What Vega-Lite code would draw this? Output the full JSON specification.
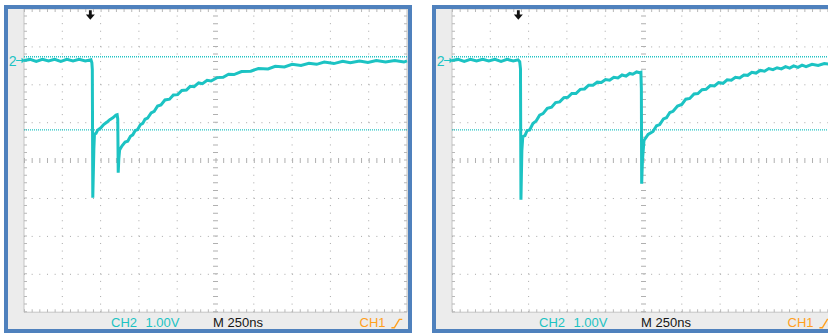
{
  "$schema": "https://vega.github.io/schema/vega-lite/v6.json",
  "background": "white",
  "padding": {"left": 3, "top": 4, "right": 0, "bottom": 0},
  "spacing": 18,
  "config": {
    "view": {"stroke": null, "fill": "#ececec"},
    "axis": {"disable": true},
    "legend": {"disable": true}
  },
  "datasets": {
    "left": [
      {"t": 0, "v": 2.64}, {"t": 40, "v": 2.67}, {"t": 80, "v": 2.62}, {"t": 120, "v": 2.67}, {"t": 160, "v": 2.63},
      {"t": 200, "v": 2.67}, {"t": 240, "v": 2.62}, {"t": 280, "v": 2.67}, {"t": 320, "v": 2.63}, {"t": 360, "v": 2.67},
      {"t": 400, "v": 2.63}, {"t": 437, "v": 2.66}, {"t": 443, "v": 2.58}, {"t": 446, "v": 2.4}, {"t": 449, "v": -0.98},
      {"t": 456, "v": 0.3}, {"t": 460, "v": 0.7}, {"t": 470, "v": 0.72}, {"t": 480, "v": 0.8}, {"t": 500, "v": 0.86},
      {"t": 520, "v": 0.95}, {"t": 540, "v": 1.01}, {"t": 560, "v": 1.08}, {"t": 580, "v": 1.13}, {"t": 600, "v": 1.2},
      {"t": 608, "v": 1.21}, {"t": 612, "v": 1.1}, {"t": 615, "v": -0.32}, {"t": 619, "v": 0.05}, {"t": 624, "v": 0.28},
      {"t": 640, "v": 0.39}, {"t": 660, "v": 0.49}, {"t": 677, "v": 0.51}, {"t": 695, "v": 0.64}, {"t": 710, "v": 0.68},
      {"t": 725, "v": 0.79}, {"t": 742, "v": 0.82}, {"t": 760, "v": 0.95}, {"t": 775, "v": 0.98}, {"t": 790, "v": 1.09},
      {"t": 807, "v": 1.12}, {"t": 830, "v": 1.26}, {"t": 850, "v": 1.3}, {"t": 872, "v": 1.44}, {"t": 894, "v": 1.47},
      {"t": 920, "v": 1.6}, {"t": 950, "v": 1.62}, {"t": 975, "v": 1.73}, {"t": 1003, "v": 1.74}, {"t": 1030, "v": 1.85},
      {"t": 1060, "v": 1.86}, {"t": 1085, "v": 1.96}, {"t": 1110, "v": 1.95}, {"t": 1140, "v": 2.05}, {"t": 1165, "v": 2.03},
      {"t": 1195, "v": 2.12}, {"t": 1221, "v": 2.1}, {"t": 1260, "v": 2.19}, {"t": 1300, "v": 2.2}, {"t": 1335, "v": 2.28},
      {"t": 1371, "v": 2.27}, {"t": 1420, "v": 2.35}, {"t": 1480, "v": 2.36}, {"t": 1530, "v": 2.43}, {"t": 1593, "v": 2.42},
      {"t": 1640, "v": 2.49}, {"t": 1700, "v": 2.47}, {"t": 1750, "v": 2.54}, {"t": 1808, "v": 2.51}, {"t": 1860, "v": 2.57},
      {"t": 1910, "v": 2.54}, {"t": 1960, "v": 2.6}, {"t": 2023, "v": 2.56}, {"t": 2080, "v": 2.62}, {"t": 2130, "v": 2.58},
      {"t": 2190, "v": 2.63}, {"t": 2245, "v": 2.59}, {"t": 2300, "v": 2.64}, {"t": 2360, "v": 2.6}, {"t": 2420, "v": 2.64},
      {"t": 2480, "v": 2.6}, {"t": 2500, "v": 2.63}
    ],
    "right": [
      {"t": 0, "v": 2.64}, {"t": 40, "v": 2.67}, {"t": 80, "v": 2.62}, {"t": 120, "v": 2.67}, {"t": 160, "v": 2.63},
      {"t": 200, "v": 2.67}, {"t": 240, "v": 2.63}, {"t": 280, "v": 2.67}, {"t": 320, "v": 2.62}, {"t": 360, "v": 2.67},
      {"t": 400, "v": 2.63}, {"t": 431, "v": 2.66}, {"t": 442, "v": 2.61}, {"t": 447, "v": 2.42}, {"t": 450, "v": -1.03},
      {"t": 456, "v": 0.26}, {"t": 462, "v": 0.63}, {"t": 476, "v": 0.66}, {"t": 490, "v": 0.79}, {"t": 507, "v": 0.81},
      {"t": 528, "v": 0.98}, {"t": 550, "v": 1.05}, {"t": 572, "v": 1.2}, {"t": 594, "v": 1.24}, {"t": 622, "v": 1.38},
      {"t": 650, "v": 1.41}, {"t": 676, "v": 1.53}, {"t": 703, "v": 1.55}, {"t": 730, "v": 1.66}, {"t": 756, "v": 1.67},
      {"t": 782, "v": 1.77}, {"t": 809, "v": 1.77}, {"t": 837, "v": 1.88}, {"t": 865, "v": 1.89}, {"t": 892, "v": 1.99},
      {"t": 920, "v": 1.99}, {"t": 948, "v": 2.07}, {"t": 975, "v": 2.06}, {"t": 1002, "v": 2.14}, {"t": 1029, "v": 2.12},
      {"t": 1056, "v": 2.2}, {"t": 1083, "v": 2.18}, {"t": 1110, "v": 2.26}, {"t": 1136, "v": 2.23}, {"t": 1160, "v": 2.3},
      {"t": 1180, "v": 2.28}, {"t": 1205, "v": 2.34}, {"t": 1225, "v": 2.32}, {"t": 1233, "v": 2.33}, {"t": 1236, "v": 1.9},
      {"t": 1238, "v": -0.61}, {"t": 1243, "v": 0.0}, {"t": 1253, "v": 0.53}, {"t": 1280, "v": 0.69}, {"t": 1312, "v": 0.77},
      {"t": 1335, "v": 0.92}, {"t": 1356, "v": 0.95}, {"t": 1380, "v": 1.1}, {"t": 1400, "v": 1.13}, {"t": 1422, "v": 1.27},
      {"t": 1443, "v": 1.3}, {"t": 1472, "v": 1.44}, {"t": 1500, "v": 1.48}, {"t": 1526, "v": 1.62}, {"t": 1552, "v": 1.64},
      {"t": 1580, "v": 1.76}, {"t": 1605, "v": 1.77}, {"t": 1632, "v": 1.87}, {"t": 1658, "v": 1.88}, {"t": 1686, "v": 1.98},
      {"t": 1713, "v": 1.97}, {"t": 1740, "v": 2.06}, {"t": 1769, "v": 2.04}, {"t": 1796, "v": 2.13}, {"t": 1823, "v": 2.12},
      {"t": 1850, "v": 2.2}, {"t": 1878, "v": 2.18}, {"t": 1905, "v": 2.26}, {"t": 1930, "v": 2.25}, {"t": 1957, "v": 2.33},
      {"t": 1984, "v": 2.31}, {"t": 2012, "v": 2.38}, {"t": 2040, "v": 2.36}, {"t": 2068, "v": 2.43}, {"t": 2095, "v": 2.4},
      {"t": 2122, "v": 2.45}, {"t": 2150, "v": 2.42}, {"t": 2177, "v": 2.48}, {"t": 2204, "v": 2.44}, {"t": 2230, "v": 2.5},
      {"t": 2258, "v": 2.46}, {"t": 2285, "v": 2.52}, {"t": 2311, "v": 2.48}, {"t": 2350, "v": 2.54}, {"t": 2390, "v": 2.51},
      {"t": 2430, "v": 2.56}, {"t": 2468, "v": 2.54}
    ],
    "vgrid": [{"t": 250}, {"t": 500}, {"t": 750}, {"t": 1000}, {"t": 1500}, {"t": 1750}, {"t": 2000}, {"t": 2250}],
    "hgrid": [{"v": -3}, {"v": -2}, {"v": -1}, {"v": 1}, {"v": 2}, {"v": 3}],
    "cursors": [{"v": 2.74}, {"v": 0.81}],
    "labels": [
      {"label": "CH2", "t": 568, "kind": "ch2"},
      {"label": "1.00V", "t": 793, "kind": "ch2"},
      {"label": "M 250ns", "t": 1234, "kind": "time"},
      {"label": "CH1", "t": 2190, "kind": "ch1"}
    ],
    "slope": [{"t": 2398, "v": -4.41}, {"t": 2417, "v": -4.41}, {"t": 2450, "v": -4.19}, {"t": 2469, "v": -4.19}]
  },
  "hconcat": [
    {
      "width": 404,
      "height": 324,
      "layer": [
        {"data": {"values": [{}]}, "mark": {"type": "rect", "fill": "white", "stroke": "#c4c4c4", "strokeWidth": 1},
         "encoding": {"x": {"datum": 0, "type": "quantitative", "scale": {"domain": [-117.5, 2519.6], "nice": false, "zero": false}}, "x2": {"datum": 2500},
                      "y": {"datum": -4, "type": "quantitative", "scale": {"domain": [-4.496, 4.053], "nice": false, "zero": false}}, "y2": {"datum": 4}}},
        {"data": {"name": "vgrid"}, "mark": {"type": "rule", "color": "#a8a8a8", "strokeWidth": 1, "strokeDash": [1, 6.58]},
         "encoding": {"x": {"field": "t", "type": "quantitative"}, "y": {"datum": -4}, "y2": {"datum": 4}}},
        {"data": {"name": "hgrid"}, "mark": {"type": "rule", "color": "#a8a8a8", "strokeWidth": 1, "strokeDash": [1, 6.66]},
         "encoding": {"y": {"field": "v", "type": "quantitative"}, "x": {"datum": 0}, "x2": {"datum": 2500}}},
        {"data": {"values": [{}]}, "mark": {"type": "rule", "color": "#b0b0b0", "strokeWidth": 5, "strokeDash": [1, 6.58]},
         "encoding": {"x": {"datum": 1250}, "y": {"datum": -4}, "y2": {"datum": 4}}},
        {"data": {"values": [{}]}, "mark": {"type": "rule", "color": "#b0b0b0", "strokeWidth": 5, "strokeDash": [1, 6.66]},
         "encoding": {"y": {"datum": 0}, "x": {"datum": 0}, "x2": {"datum": 2500}}},
        {"data": {"values": [{}]}, "mark": {"type": "rule", "color": "#b8b8b8", "strokeWidth": 3, "strokeDash": [1, 6.66]},
         "encoding": {"y": {"datum": 3.96}, "x": {"datum": 0}, "x2": {"datum": 2500}}},
        {"data": {"values": [{}]}, "mark": {"type": "rule", "color": "#b8b8b8", "strokeWidth": 3, "strokeDash": [1, 6.66]},
         "encoding": {"y": {"datum": -3.96}, "x": {"datum": 0}, "x2": {"datum": 2500}}},
        {"data": {"values": [{}]}, "mark": {"type": "rule", "color": "#b8b8b8", "strokeWidth": 3, "strokeDash": [1, 6.58]},
         "encoding": {"x": {"datum": 9.8}, "y": {"datum": -4}, "y2": {"datum": 4}}},
        {"data": {"values": [{}]}, "mark": {"type": "rule", "color": "#b8b8b8", "strokeWidth": 3, "strokeDash": [1, 6.58]},
         "encoding": {"x": {"datum": 2490.2}, "y": {"datum": -4}, "y2": {"datum": 4}}},
        {"data": {"name": "cursors"}, "mark": {"type": "rule", "color": "#22c4c4", "strokeWidth": 1.3, "strokeDash": [1, 1]},
         "encoding": {"y": {"field": "v", "type": "quantitative"}, "x": {"datum": 0}, "x2": {"datum": 2500}}},
        {"data": {"name": "left"}, "mark": {"type": "line", "color": "#1cc3c3", "strokeWidth": 3, "strokeJoin": "miter"},
         "encoding": {"x": {"field": "t", "type": "quantitative"}, "y": {"field": "v", "type": "quantitative"}}},
        {"data": {"values": [{}]}, "mark": {"type": "text", "text": "2", "color": "#1cc3c3", "font": "Liberation Sans", "fontSize": 14, "align": "center", "baseline": "middle"},
         "encoding": {"x": {"datum": -74}, "y": {"datum": 2.6}}},
        {"data": {"values": [{}]}, "mark": {"type": "point", "shape": "M-1,-0.12H0.2V-0.6L1,0L0.2,0.6V0.12H-1Z", "filled": true, "color": "#1cc3c3", "size": 80, "opacity": 1},
         "encoding": {"x": {"datum": -22}, "y": {"datum": 2.64}}},
        {"data": {"values": [{}]}, "mark": {"type": "point", "shape": "M-0.3,-1H0.3V-0.1H0.95L0,1L-0.95,-0.1H-0.3Z", "filled": true, "color": "#111111", "size": 90, "opacity": 1},
         "encoding": {"x": {"datum": 433}, "y": {"datum": 3.84}}},
        {"data": {"name": "labels"}, "mark": {"type": "text", "font": "Liberation Sans", "fontSize": 13, "align": "left", "baseline": "alphabetic"},
         "encoding": {"x": {"field": "t", "type": "quantitative"}, "y": {"datum": -4.39}, "text": {"field": "label"},
                      "color": {"field": "kind", "type": "nominal", "scale": {"domain": ["ch2", "time", "ch1"], "range": ["#1cc3c3", "#151515", "#ffa01e"]}, "legend": null}}},
        {"data": {"name": "slope"}, "mark": {"type": "line", "color": "#ffa01e", "strokeWidth": 1.4},
         "encoding": {"x": {"field": "t", "type": "quantitative"}, "y": {"field": "v", "type": "quantitative"}}},
        {"data": {"values": [{}]}, "mark": {"type": "rule", "color": "#4f81bd", "strokeWidth": 4, "strokeCap": "butt"},
         "encoding": {"y": {"datum": 4.053}}},
        {"data": {"values": [{}]}, "mark": {"type": "rule", "color": "#4f81bd", "strokeWidth": 4, "strokeCap": "butt"},
         "encoding": {"y": {"datum": -4.496}}},
        {"data": {"values": [{}]}, "mark": {"type": "rule", "color": "#4f81bd", "strokeWidth": 4, "strokeCap": "square"},
         "encoding": {"x": {"datum": -117.5}}},
        {"data": {"values": [{}]}, "mark": {"type": "rule", "color": "#4f81bd", "strokeWidth": 4, "strokeCap": "square"},
         "encoding": {"x": {"datum": 2519.6}}}
      ]
    },
    {
      "width": 397,
      "height": 324,
      "layer": [
        {"data": {"values": [{}]}, "mark": {"type": "rect", "fill": "white", "stroke": "#c4c4c4", "strokeWidth": 1, "clip": true},
         "encoding": {"x": {"datum": 0, "type": "quantitative", "scale": {"domain": [-117.5, 2473.8], "nice": false, "zero": false}}, "x2": {"datum": 2500},
                      "y": {"datum": -4, "type": "quantitative", "scale": {"domain": [-4.496, 4.053], "nice": false, "zero": false}}, "y2": {"datum": 4}}},
        {"data": {"name": "vgrid"}, "mark": {"type": "rule", "color": "#a8a8a8", "strokeWidth": 1, "strokeDash": [1, 6.58], "clip": true},
         "encoding": {"x": {"field": "t", "type": "quantitative"}, "y": {"datum": -4}, "y2": {"datum": 4}}},
        {"data": {"name": "hgrid"}, "mark": {"type": "rule", "color": "#a8a8a8", "strokeWidth": 1, "strokeDash": [1, 6.66], "clip": true},
         "encoding": {"y": {"field": "v", "type": "quantitative"}, "x": {"datum": 0}, "x2": {"datum": 2500}}},
        {"data": {"values": [{}]}, "mark": {"type": "rule", "color": "#b0b0b0", "strokeWidth": 5, "strokeDash": [1, 6.58], "clip": true},
         "encoding": {"x": {"datum": 1250}, "y": {"datum": -4}, "y2": {"datum": 4}}},
        {"data": {"values": [{}]}, "mark": {"type": "rule", "color": "#b0b0b0", "strokeWidth": 5, "strokeDash": [1, 6.66], "clip": true},
         "encoding": {"y": {"datum": 0}, "x": {"datum": 0}, "x2": {"datum": 2500}}},
        {"data": {"values": [{}]}, "mark": {"type": "rule", "color": "#b8b8b8", "strokeWidth": 3, "strokeDash": [1, 6.66], "clip": true},
         "encoding": {"y": {"datum": 3.96}, "x": {"datum": 0}, "x2": {"datum": 2500}}},
        {"data": {"values": [{}]}, "mark": {"type": "rule", "color": "#b8b8b8", "strokeWidth": 3, "strokeDash": [1, 6.66], "clip": true},
         "encoding": {"y": {"datum": -3.96}, "x": {"datum": 0}, "x2": {"datum": 2500}}},
        {"data": {"values": [{}]}, "mark": {"type": "rule", "color": "#b8b8b8", "strokeWidth": 3, "strokeDash": [1, 6.58], "clip": true},
         "encoding": {"x": {"datum": 9.8}, "y": {"datum": -4}, "y2": {"datum": 4}}},
        {"data": {"name": "cursors"}, "mark": {"type": "rule", "color": "#22c4c4", "strokeWidth": 1.3, "strokeDash": [1, 1], "clip": true},
         "encoding": {"y": {"field": "v", "type": "quantitative"}, "x": {"datum": 0}, "x2": {"datum": 2500}}},
        {"data": {"name": "right"}, "mark": {"type": "line", "color": "#1cc3c3", "strokeWidth": 3, "strokeJoin": "miter", "clip": true},
         "encoding": {"x": {"field": "t", "type": "quantitative"}, "y": {"field": "v", "type": "quantitative"}}},
        {"data": {"values": [{}]}, "mark": {"type": "text", "text": "2", "color": "#1cc3c3", "font": "Liberation Sans", "fontSize": 14, "align": "center", "baseline": "middle"},
         "encoding": {"x": {"datum": -74}, "y": {"datum": 2.6}}},
        {"data": {"values": [{}]}, "mark": {"type": "point", "shape": "M-1,-0.12H0.2V-0.6L1,0L0.2,0.6V0.12H-1Z", "filled": true, "color": "#1cc3c3", "size": 80, "opacity": 1},
         "encoding": {"x": {"datum": -22}, "y": {"datum": 2.64}}},
        {"data": {"values": [{}]}, "mark": {"type": "point", "shape": "M-0.3,-1H0.3V-0.1H0.95L0,1L-0.95,-0.1H-0.3Z", "filled": true, "color": "#111111", "size": 90, "opacity": 1},
         "encoding": {"x": {"datum": 433}, "y": {"datum": 3.84}}},
        {"data": {"name": "labels"}, "mark": {"type": "text", "font": "Liberation Sans", "fontSize": 13, "align": "left", "baseline": "alphabetic", "clip": true},
         "encoding": {"x": {"field": "t", "type": "quantitative"}, "y": {"datum": -4.39}, "text": {"field": "label"},
                      "color": {"field": "kind", "type": "nominal", "scale": {"domain": ["ch2", "time", "ch1"], "range": ["#1cc3c3", "#151515", "#ffa01e"]}, "legend": null}}},
        {"data": {"name": "slope"}, "mark": {"type": "line", "color": "#ffa01e", "strokeWidth": 1.4, "clip": true},
         "encoding": {"x": {"field": "t", "type": "quantitative"}, "y": {"field": "v", "type": "quantitative"}}},
        {"data": {"values": [{}]}, "mark": {"type": "rule", "color": "#4f81bd", "strokeWidth": 4, "strokeCap": "butt"},
         "encoding": {"y": {"datum": 4.053}}},
        {"data": {"values": [{}]}, "mark": {"type": "rule", "color": "#4f81bd", "strokeWidth": 4, "strokeCap": "butt"},
         "encoding": {"y": {"datum": -4.496}}},
        {"data": {"values": [{}]}, "mark": {"type": "rule", "color": "#4f81bd", "strokeWidth": 4, "strokeCap": "square"},
         "encoding": {"x": {"datum": -117.5}}}
      ]
    }
  ]
}
